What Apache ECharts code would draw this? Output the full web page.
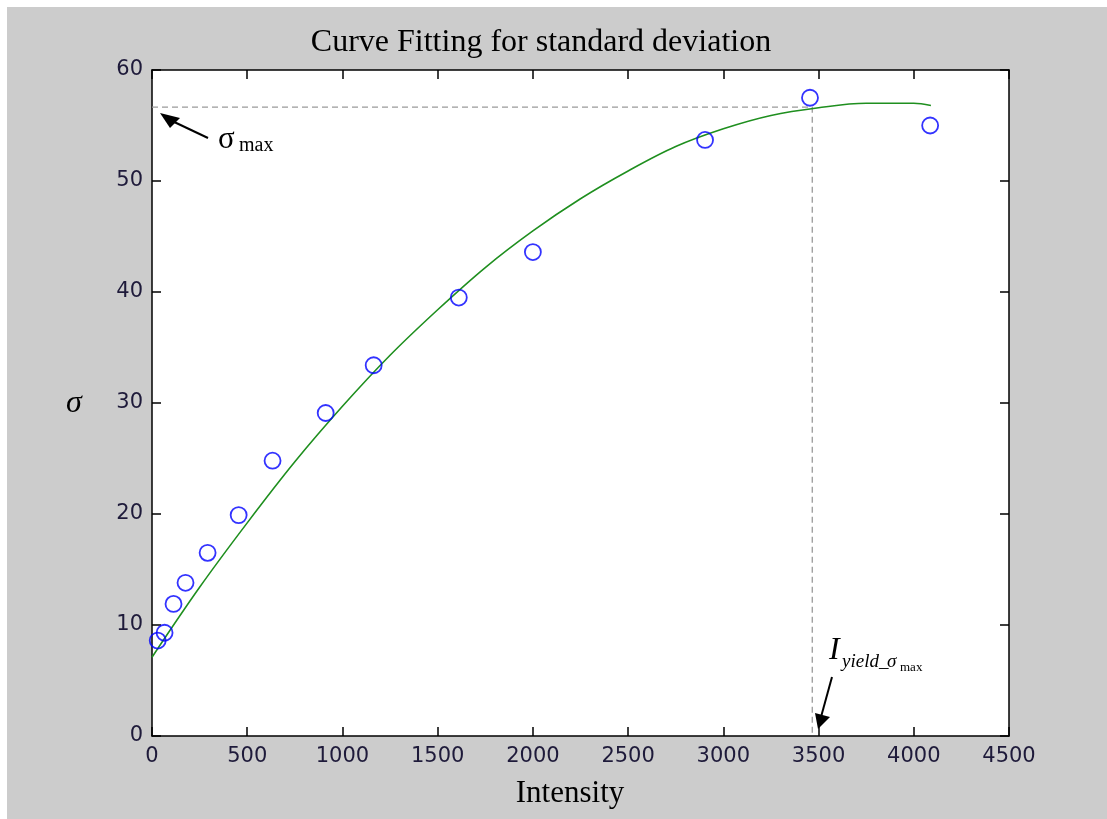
<!DOCTYPE html>
<html><head><meta charset="utf-8">
<script src="https://cdn.jsdelivr.net/npm/echarts@6/dist/echarts.min.js"></script>
<style>html,body{margin:0;padding:0;background:#fff}#c{width:1107px;height:819px}</style>
</head><body><div id="c"></div>
<script>
// measured data points
const intensity = [30, 66, 113, 176, 292, 455, 633, 912, 1164, 1611, 2000, 2904, 3455, 4086];
const sigma = [8.6, 9.3, 11.9, 13.8, 16.5, 19.9, 24.8, 29.1, 33.4, 39.5, 43.6, 53.7, 57.5, 55.0];
// fitted curve
const fitX = [0, 250, 500, 750, 1000, 1250, 1500, 1750, 2000, 2250, 2500, 2750, 3000, 3250, 3500, 3750, 4000, 4090];
const fitY = [7.1, 13.4, 19.2, 24.7, 29.7, 34.3, 38.4, 42.2, 45.5, 48.4, 50.9, 53.1, 54.7, 55.9, 56.6, 57.0, 57.0, 56.8];
// guide lines
const sigmaMax = 56.66;
const iYield = 3467;
const xMin = 0, xMax = 4500, xStep = 500;
const yMin = 0, yMax = 60, yStep = 10;

const chart = echarts.init(document.getElementById('c'), null, {renderer: 'canvas'});
const axisCol = '#000';
const labCol = '#1e1a3a';
const sans = "'DejaVu Sans', Verdana, sans-serif";
function xAx(pos, showLab) {
  return {type: 'value', min: xMin, max: xMax, interval: xStep, position: pos,
    axisLine: {show: true, onZero: false, lineStyle: {color: axisCol, width: 1.5}},
    axisTick: {show: true, inside: true, length: 9, lineStyle: {color: axisCol, width: 1.5}},
    axisLabel: {show: showLab, color: labCol, fontFamily: sans, fontSize: 21, margin: 10,
      formatter: v => String(v)},
    splitLine: {show: false}};
}
function yAx(pos, showLab) {
  return {type: 'value', min: yMin, max: yMax, interval: yStep, position: pos,
    axisLine: {show: true, onZero: false, lineStyle: {color: axisCol, width: 1.5}},
    axisTick: {show: true, inside: true, length: 9, lineStyle: {color: axisCol, width: 1.5}},
    axisLabel: {show: showLab, color: labCol, fontFamily: sans, fontSize: 21, margin: 9,
      formatter: v => String(v)},
    splitLine: {show: false}};
}
function txt(x, y, text, font, align) {
  return {type: 'text', x: x, y: y, z: 100,
    style: {text: text, font: font, fill: '#000', textAlign: align || 'left', align: align || 'left',
      textVerticalAlign: 'middle', verticalAlign: 'middle'}};
}
const serif = "'Liberation Serif', 'Times New Roman', serif";
chart.setOption({
  animation: false,
  backgroundColor: '#cccccc',
  grid: {left: 152, top: 70, right: 98, bottom: 83, show: true, backgroundColor: '#fff', borderWidth: 0},
  xAxis: [xAx('bottom', true), xAx('top', false)],
  yAxis: [yAx('left', true), yAx('right', false)],
  series: [
    {type: 'line', data: [[xMin, sigmaMax], [iYield, sigmaMax], [iYield, yMin]], symbol: 'none',
      lineStyle: {color: '#9a9a9a', width: 1.3, type: [6, 4]}, z: 1},
    {type: 'line', data: fitX.map((x, i) => [x, fitY[i]]), symbol: 'none', smooth: 0.35,
      lineStyle: {color: '#1f8f1f', width: 1.6}, z: 2},
    {type: 'scatter', data: intensity.map((x, i) => [x, sigma[i]]), symbol: 'circle', symbolSize: 16,
      itemStyle: {color: 'rgba(0,0,0,0)', borderColor: '#0000ff', borderWidth: 1.8}, z: 3}
  ],
  graphic: [
    {type: 'rect', shape: {x: 0, y: 0, width: 1107, height: 7}, style: {fill: '#fff'}, z: 0},
    {type: 'rect', shape: {x: 0, y: 0, width: 7, height: 819}, style: {fill: '#fff'}, z: 0},
    txt(541, 43, 'Curve Fitting for standard deviation', "32px " + serif, 'center'),
    txt(570, 794, 'Intensity', "31px " + serif, 'center'),
    txt(74, 404, 'σ', "italic 32px " + serif, 'center'),
    // sigma max annotation
    {type: 'line', shape: {x1: 208, y1: 138, x2: 170, y2: 120}, style: {stroke: '#000', lineWidth: 2}, z: 100},
    {type: 'polygon', shape: {points: [[160, 113], [170, 128], [180, 118]]}, style: {fill: '#000'}, z: 100},
    txt(218, 140, 'σ', "31px " + serif, 'left'),
    txt(239, 146, 'max', "20px " + serif, 'left'),
    // I yield annotation
    {type: 'line', shape: {x1: 832, y1: 677, x2: 821, y2: 717}, style: {stroke: '#000', lineWidth: 2}, z: 100},
    {type: 'polygon', shape: {points: [[818, 729], [815, 713], [830, 717]]}, style: {fill: '#000'}, z: 100},
    txt(829, 651, 'I', "italic 32px " + serif, 'left'),
    txt(842, 662, 'yield_', "italic 19px " + serif, 'left'),
    txt(887, 662, 'σ', "italic 19px " + serif, 'left'),
    txt(900, 668, 'max', "13px " + serif, 'left')
  ]
});
</script></body></html>
